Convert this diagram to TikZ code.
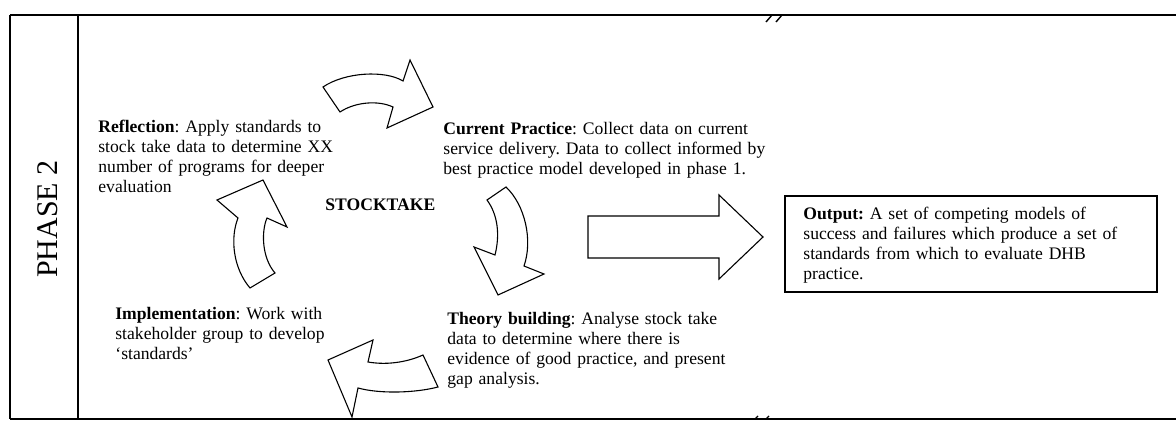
\documentclass[tikz,border=0pt]{standalone}
\usepackage{fontspec}
\setmainfont{Liberation Serif}
\frenchspacing
\begin{document}
\begin{tikzpicture}[x=0.5pt,y=-0.5pt,
  frameline/.style={line width=1pt,black},
  arrowshape/.style={draw=black,line width=0.55pt,fill=white,line join=miter},
  body/.style={inner sep=0pt,anchor=base west,align=left,text width=260pt,
    font=\fontsize{8.8}{10}\selectfont\frenchspacing},
  boxline/.style={draw=black,line width=0.75pt}]
\useasboundingbox (0,0) rectangle (1176,421);
% frame
\draw[frameline] (10,15) -- (1176,15);
\draw[frameline] (10,419) -- (1176,419);
\draw[frameline] (10,15) -- (10,419);
\draw[frameline] (78,15) -- (78,419);
% break marks
\draw[line width=0.7pt] (766,22) -- (772,15) (776,22) -- (782,15);
\draw[line width=0.6pt] (755,419) -- (758,416) (766,419) -- (769,416);
% phase label
\node[rotate=90,inner sep=0pt,font=\fontsize{15}{18}\selectfont] (phase) at (48,219) {PHASE 2};
% texts
\node[body] (refl) at (98,133) {\textbf{Reflection}: Apply standards to\\stock take data to determine XX\\number of programs for deeper\\evaluation};
\node[body] (curr) at (443,135) {\textbf{Current Practice}: Collect data on current\\service delivery. Data to collect informed by\\best practice model developed in phase 1.};
\node[body] (theo) at (447,325) {\textbf{Theory building}: Analyse stock take\\data to determine where there is\\evidence of good practice, and present\\gap analysis.};
\node[body] (impl) at (115,320) {\textbf{Implementation}: Work with\\stakeholder group to develop\\‘standards’};
\node[inner sep=0pt,anchor=base west,font=\fontsize{8.8}{10}\selectfont\bfseries] (stock) at (325,211) {STOCKTAKE};
% output box
\draw[boxline] (785,196) rectangle (1157,292);
\node[body] (out) at (803,220) {\textbf{Output:} A set of competing models of\\success and failures which produce a set of\\standards from which to evaluate DHB\\practice.};
% big arrow
\draw[arrowshape] (588,216) -- (719,216) -- (719,195) -- (763,237) -- (719,279) -- (719,258) -- (588,258) -- cycle;
% top curved arrow
\draw[arrowshape] (323,87) .. controls (345,72) and (385,70) .. (403,81) -- (410,60) -- (433,107) -- (387,128) -- (393,107) .. controls (378,100) and (355,102) .. (340,112) -- cycle;
% right curved arrow (down)
\draw[arrowshape] (487,200) -- (506,187) .. controls (525,205) and (533,240) .. (524,266) -- (544,274) -- (498,295) -- (474,247) -- (495,255) .. controls (500,235) and (498,215) .. (487,200) -- cycle;
% bottom curved arrow (left)
\draw[arrowshape] (423,355) -- (438,387) .. controls (415,393) and (380,394) .. (358,388) -- (352,417) -- (328,360) -- (373,340) -- (368,362) .. controls (385,365) and (405,363) .. (423,355) -- cycle;
% left curved arrow (up)
\draw[arrowshape] (250,288) -- (275,273) .. controls (262,258) and (261,232) .. (267,218) -- (287,227) -- (263,180) -- (217,200) -- (238,218) .. controls (230,238) and (233,268) .. (250,288) -- cycle;
\end{tikzpicture}
\end{document}
